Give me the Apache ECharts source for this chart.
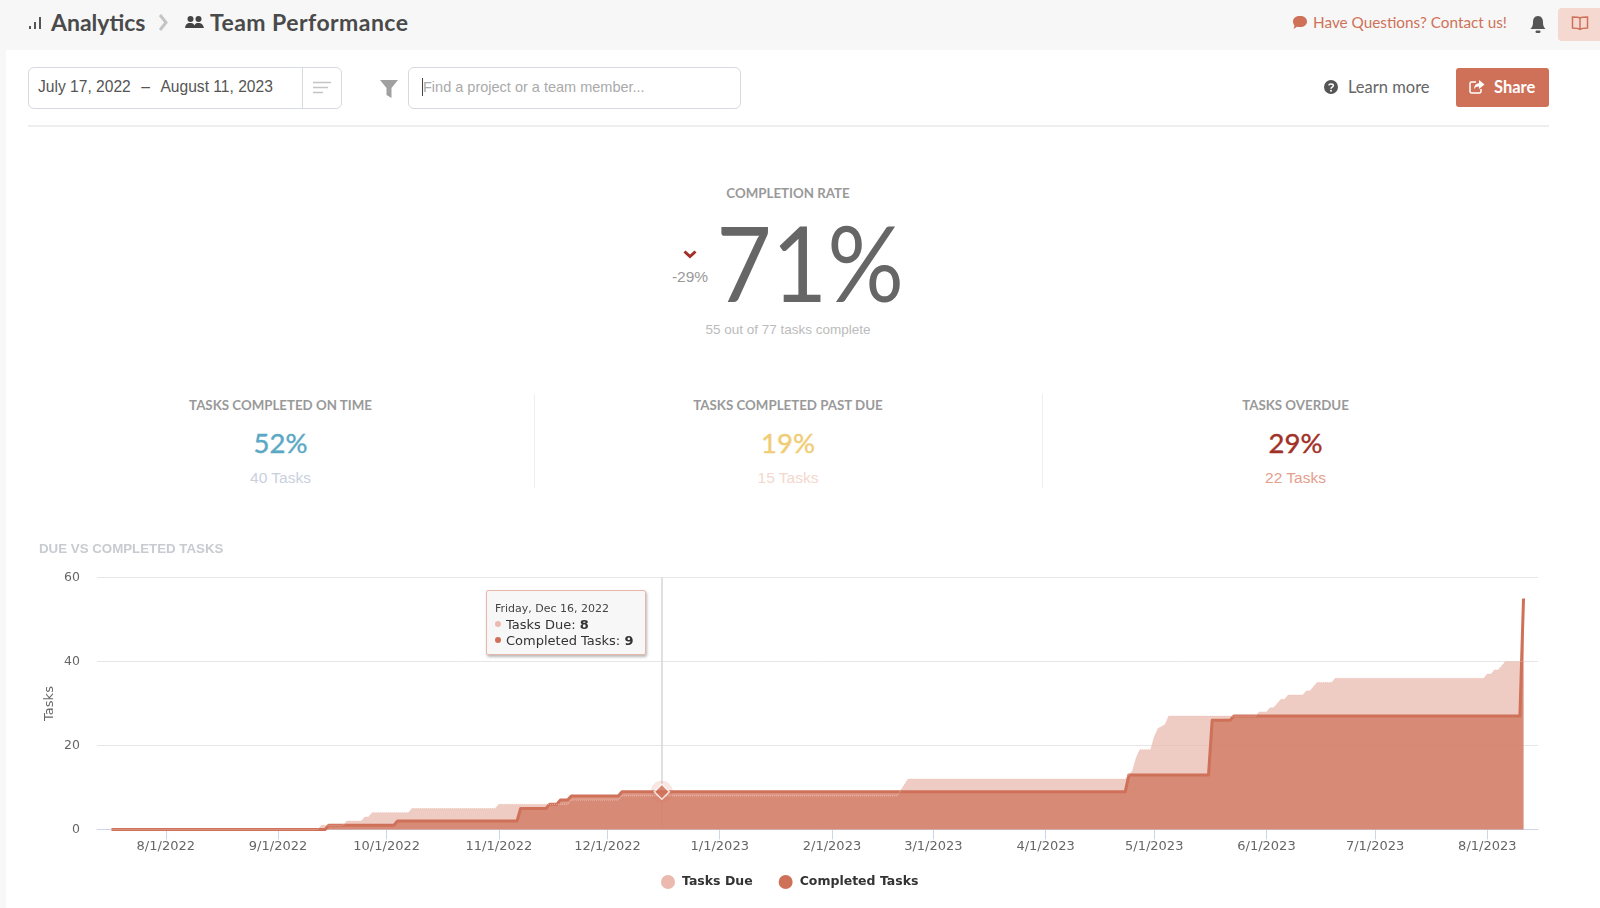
<!DOCTYPE html>
<html>
<head>
<meta charset="utf-8">
<title>Team Performance</title>
<script src="https://cdn.jsdelivr.net/npm/echarts@6/dist/echarts.min.js"></script>
<style>
  html, body { margin: 0; padding: 0; width: 1600px; height: 908px; overflow: hidden; background: #fff; }
  body { position: relative; font-family: Lato, sans-serif; }
  .abs { position: absolute; white-space: nowrap; line-height: 1; }
  .mid { transform: translate(-50%, -50%); }
  .vmid { transform: translateY(-50%); }
  .helv { font-family: "Liberation Sans", sans-serif; }
  .kpi-title { font-size: 13.3px; font-weight: 700; color: #999; }
  .kpi-value { font-size: 27.5px; font-weight: 400; -webkit-text-stroke: 0.4px; }
  .kpi-sub { font-size: 15.5px; font-family: "Liberation Sans", sans-serif; }
  #chart { position: absolute; left: 0; top: 530px; width: 1600px; height: 378px; }
</style>
</head>
<body>
<div class="abs" style="left:0;top:0;width:1600px;height:50px;background:#f7f7f7"></div>
<div class="abs" style="left:0;top:50px;width:6px;height:858px;background:#f7f7f7"></div>

<svg class="abs" style="left:28px;top:15px" width="14" height="15"><path d="M1 11h2v3H1zM6 7h2v7H6zM11 2h2v12h-2z" fill="#555"/></svg>
<div class="abs vmid" style="left:51px;top:22px;font-size:23px;font-weight:700;color:#4a4a4a">Analytics</div>
<svg class="abs" style="left:157px;top:13px" width="13" height="19"><path d="M3 2l6 7.5L3 17" fill="none" stroke="#c4c4c4" stroke-width="3"/></svg>
<svg class="abs" style="left:185px;top:14px" width="19" height="17"><g fill="#444"><circle cx="5.5" cy="5" r="3"/><circle cx="13.5" cy="5" r="3"/><path d="M0 14c1-5 3-5 5.5-5s4 1 5 5zM9 14c1-5 2-5 4.500-5s4.500 1 5.500 5z"/></g></svg>
<div class="abs vmid" style="left:210px;top:22px;font-size:23px;font-weight:700;color:#4a4a4a;letter-spacing:0.45px">Team Performance</div>

<svg class="abs" style="left:1292px;top:15px" width="16" height="15"><path d="M8 1c4 0 7 2 7 5.500S12 12 8 12c-1 0-2 0-3-.3L1.500 14l1-3.500C1.500 9.500 1 8 1 6.500 1 3 4 1 8 1z" fill="#cf7159"/></svg>
<div class="abs vmid" style="left:1313px;top:23px;font-size:15.3px;color:#cf7159">Have Questions? Contact us!</div>
<svg class="abs" style="left:1529px;top:15px" width="18" height="20"><path d="M9 1c-3.500 0-5 3-5 6 0 4-1 5-2.500 7h15C15 12 14 11 14 7c0-3-1.500-6-5-6z" fill="#555"/><rect x="6.500" y="15.500" width="5" height="2.500" rx="1.200" fill="#555"/></svg>
<div class="abs" style="left:1558px;top:8px;width:42px;height:33px;background:#f5d9d1;border-radius:4px 0 0 4px"></div>
<svg class="abs" style="left:1571px;top:15px" width="18" height="17"><path d="M9 3C7 2 4 2 1.500 2v11c2.500 0 5.500 0 7.500 1.500 2-1.500 5-1.500 7.500-1.500V2C14 2 11 2 9 3zv11.500" fill="none" stroke="#cf7159" stroke-width="1.500"/></svg>

<div class="abs" style="left:28px;top:67px;width:312px;height:40px;border:1px solid #d6d9df;border-radius:6px"></div>
<div class="abs" style="left:302px;top:67px;width:1px;height:42px;background:#d6d9df"></div>
<div class="abs helv vmid" style="left:38px;top:87px;font-size:15.6px;color:#555">July 17, 2022<span style="margin:0 10.500px">–</span>August 11, 2023</div>
<svg class="abs" style="left:312px;top:81px" width="20" height="14"><path d="M1 1.500h18M1 6.500h15M1 11.500h10" stroke="#c4c4c4" stroke-width="1.500"/></svg>
<svg class="abs" style="left:380px;top:79px" width="18" height="20"><path d="M0 1h18l-6.500 8v10l-5-3V9z" fill="#a0a0a0"/></svg>
<div class="abs" style="left:408px;top:67px;width:331px;height:40px;border:1px solid #d6d9df;border-radius:6px"></div>
<div class="abs" style="left:422px;top:78px;width:1px;height:18px;background:#444"></div>
<div class="abs helv vmid" style="left:423px;top:87px;font-size:14.5px;color:#aaa">Find a project or a team member...</div>

<svg class="abs" style="left:1324px;top:80px" width="14" height="14"><circle cx="7" cy="7" r="7" fill="#555"/><path d="M4.800 5.300C5 3.800 9.300 3.500 9.300 5.700c0 1.500-2.300 1.500-2.300 3" fill="none" stroke="#fff" stroke-width="1.500"/><circle cx="7" cy="10.800" r="1" fill="#fff"/></svg>
<div class="abs vmid" style="left:1348px;top:87px;font-size:16.500px;color:#666">Learn more</div>
<div class="abs" style="left:1456px;top:68px;width:93px;height:39px;background:#cf7159;border-radius:3px"></div>
<svg class="abs" style="left:1469px;top:79px" width="16" height="15"><path d="M7 3H2.500A1.500 1.500 0 0 0 1 4.500v8A1.500 1.500 0 0 0 2.500 14h8a1.500 1.500 0 0 0 1.500-1.500V10" fill="none" stroke="#fff" stroke-width="1.500"/><path d="M10 1l5.500 4.500L10 10V7.500c-3 0-4.500 1-5 3 0-4 2-6 5-6.300z" fill="#fff"/></svg>
<div class="abs vmid" style="left:1494px;top:87px;font-size:16.500px;font-weight:700;color:#fff">Share</div>
<div class="abs" style="left:28px;top:125px;width:1521px;height:2px;background:#eee"></div>

<div class="abs mid kpi-title" style="left:788px;top:194px">COMPLETION RATE</div>
<svg class="abs" style="left:683px;top:250px" width="14" height="9"><path d="M1.500 1.500L7 6.500l5.500-5" fill="none" stroke="#a03028" stroke-width="3"/></svg>
<div class="abs helv mid" style="left:690px;top:277px;font-size:15.5px;color:#999">-29%</div>
<div class="abs mid" style="left:809.500px;top:262px;font-size:104px;line-height:0.7;color:#666;transform:translate(-50%,-50%) scaleX(0.92)">71%</div>
<div class="abs helv mid" style="left:788px;top:330px;font-size:13.500px;color:#bbb">55 out of 77 tasks complete</div>

<div class="abs mid kpi-title" style="left:280.500px;top:406px">TASKS COMPLETED ON TIME</div>
<div class="abs mid kpi-value" style="left:280.500px;top:443px;color:#5ba8c4">52%</div>
<div class="abs mid kpi-sub" style="left:280.500px;top:478px;color:#c9d0dd">40 Tasks</div>
<div class="abs" style="left:534px;top:394px;width:1px;height:94px;background:#eee"></div>
<div class="abs mid kpi-title" style="left:788px;top:406px">TASKS COMPLETED PAST DUE</div>
<div class="abs mid kpi-value" style="left:788px;top:443px;color:#f0cd75">19%</div>
<div class="abs mid kpi-sub" style="left:788px;top:478px;color:#f3d7cc">15 Tasks</div>
<div class="abs" style="left:1042px;top:394px;width:1px;height:94px;background:#eee"></div>
<div class="abs mid kpi-title" style="left:1295.500px;top:406px">TASKS OVERDUE</div>
<div class="abs mid kpi-value" style="left:1295.500px;top:443px;color:#a13128">29%</div>
<div class="abs mid kpi-sub" style="left:1295.500px;top:478px;color:#e59e8d">22 Tasks</div>

<div id="chart"></div>

<script>
const dueDates = [
  '2022-07-17', '2022-09-12', '2022-09-13', '2022-09-19', '2022-09-20', '2022-09-24', '2022-09-25',
  '2022-09-26', '2022-09-27', '2022-10-07', '2022-10-08', '2022-10-31', '2022-11-01', '2022-11-20',
  '2022-11-21', '2022-12-04', '2022-12-05', '2023-02-19', '2023-02-22', '2023-04-23', '2023-04-25',
  '2023-04-26', '2023-04-27', '2023-04-30', '2023-05-01', '2023-05-02', '2023-05-04', '2023-05-05',
  '2023-05-29', '2023-05-30', '2023-06-01', '2023-06-02', '2023-06-03', '2023-06-04', '2023-06-05',
  '2023-06-06', '2023-06-07', '2023-06-11', '2023-06-12', '2023-06-13', '2023-06-15', '2023-06-19',
  '2023-06-20', '2023-07-31', '2023-08-01', '2023-08-02', '2023-08-03', '2023-08-04', '2023-08-06',
  '2023-08-11'
]
const dueValues = [
  0, 0, 1, 1, 2, 2, 3,
  3, 4, 4, 5, 5, 6, 6,
  7, 7, 8, 8, 12, 12, 14,
  17, 19, 19, 22, 24, 25, 27,
  27, 28, 28, 29, 29, 30, 31,
  31, 32, 32, 33, 33, 35, 35,
  36, 36, 37, 37, 38, 38, 40,
  40
]
const completedDates = [
  '2022-07-17', '2022-09-14', '2022-09-15', '2022-10-03', '2022-10-04', '2022-11-06', '2022-11-07',
  '2022-11-14', '2022-11-15', '2022-11-17', '2022-11-18', '2022-11-20', '2022-11-21', '2022-12-04',
  '2022-12-05', '2023-04-23', '2023-04-24', '2023-05-16', '2023-05-17', '2023-05-22', '2023-05-23',
  '2023-08-10', '2023-08-11'
]
const completedValues = [
  0, 0, 1, 1, 2, 2, 5,
  5, 6, 6, 7, 7, 8, 8,
  9, 9, 13, 13, 26, 26, 27,
  27, 55
]
const tickDates = [
  '2022-08-01', '2022-09-01', '2022-10-01', '2022-11-01', '2022-12-01', '2023-01-01', '2023-02-01',
  '2023-03-01', '2023-04-01', '2023-05-01', '2023-06-01', '2023-07-01', '2023-08-01'
]
const yTicks = [0, 20, 40, 60]
const hoverDate = '2022-12-16'
const hoverLabel = 'Friday, Dec 16, 2022'
const hoverDue = 8
const hoverCompleted = 9

const DUE_NAME = 'Tasks Due'
const COMPLETED_NAME = 'Completed Tasks'
const CHART_FONT = '"DejaVu Sans", sans-serif'

const toTime = (s) => {
  const [y, m, d] = s.split('-').map(Number)
  return Date.UTC(y, m - 1, d)
}
const toPairs = (dates, values) => dates.map((d, i) => [toTime(d), values[i]])
const tickTimes = tickDates.map(toTime)

const chart = echarts.init(document.getElementById('chart'))

const dot = (color) =>
  `<span style="display:inline-block;width:6px;height:6px;border-radius:50%;background:${color};margin-right:5px;vertical-align:2px"></span>`

chart.setOption({
  animation: false,
  textStyle: { fontFamily: CHART_FONT },
  title: {
    text: 'DUE VS COMPLETED TASKS',
    left: 34,
    top: 8,
    textStyle: { fontFamily: '"Liberation Sans", sans-serif', fontSize: 13.3, fontWeight: 700, color: '#c8cbd1' }
  },
  grid: { left: 97, right: 62, top: 47.5, bottom: 78.5 },
  legend: {
    data: [DUE_NAME, COMPLETED_NAME],
    left: 656,
    top: 340,
    icon: 'circle',
    itemWidth: 14,
    itemHeight: 14,
    itemGap: 26,
    selectedMode: false,
    textStyle: { fontFamily: CHART_FONT, fontSize: 12.5, fontWeight: 700, color: '#333', padding: [0, 0, 0, 2] }
  },
  tooltip: {
    trigger: 'item',
    triggerOn: 'none',
    alwaysShowContent: true,
    transitionDuration: 0,
    position: [486, 60],
    padding: [10, 12, 5, 8],
    backgroundColor: '#f7f7f7',
    borderColor: '#e8b7ab',
    borderWidth: 1,
    extraCssText: 'border-radius:2px;box-shadow:1px 2px 3px rgba(0,0,0,.28);line-height:16px;',
    textStyle: { fontFamily: CHART_FONT, fontSize: 13, color: '#333' },
    formatter: () =>
      `<div style="font-size:11px;color:#444">${hoverLabel}</div>` +
      `<div>${dot('#edb9ac')}${DUE_NAME}: <b>${hoverDue}</b></div>` +
      `<div>${dot('#cf7159')}${COMPLETED_NAME}: <b>${hoverCompleted}</b></div>`
  },
  xAxis: {
    // value axis over timestamps: month ticks come straight from tickDates
    type: 'value',
    min: toTime('2022-07-13'),
    max: toTime('2023-08-15'),
    axisLine: { onZero: false, lineStyle: { color: '#ccd6eb', width: 1 } },
    axisTick: { show: true, length: 10, lineStyle: { color: '#ccd6eb' }, customValues: tickTimes },
    splitLine: { show: false },
    axisLabel: {
      customValues: tickTimes,
      margin: 11,
      fontSize: 13,
      color: '#666',
      hideOverlap: false,
      formatter: (v) => {
        const d = new Date(v)
        return `${d.getUTCMonth() + 1}/${d.getUTCDate()}/${d.getUTCFullYear()}`
      }
    }
  },
  yAxis: {
    type: 'value',
    min: yTicks[0],
    max: yTicks[yTicks.length - 1],
    interval: yTicks[1] - yTicks[0],
    name: 'Tasks',
    nameLocation: 'middle',
    nameRotate: 90,
    nameGap: 41,
    nameMoveOverlap: false,
    nameTextStyle: { fontFamily: CHART_FONT, fontSize: 13, color: '#666' },
    axisLine: { show: false },
    axisTick: { show: false },
    axisLabel: { margin: 17, fontSize: 12.5, color: '#666' },
    splitLine: { lineStyle: { color: '#e6e6e6', width: 1 } }
  },
  series: [
    {
      name: DUE_NAME,
      type: 'line',
      z: 2,
      data: toPairs(dueDates, dueValues),
      showSymbol: false,
      itemStyle: { color: '#ebb9ad' },
      lineStyle: { width: 0 },
      areaStyle: { color: 'rgb(231,181,169)', opacity: 0.7 },
      markLine: {
        silent: true,
        symbol: 'none',
        z: 1,
        label: { show: false },
        lineStyle: { color: '#d6d6d6', width: 1.5, type: 'solid' },
        data: [[{ coord: [toTime(hoverDate), yTicks[0]] }, { coord: [toTime(hoverDate), yTicks[3]] }]]
      }
    },
    {
      name: COMPLETED_NAME,
      type: 'line',
      z: 3,
      data: toPairs(completedDates, completedValues),
      showSymbol: false,
      itemStyle: { color: '#cf7159' },
      lineStyle: { width: 3, color: '#cf7159', join: 'round' },
      areaStyle: { color: '#cf7159', opacity: 0.72 }
    },
    {
      // the dotted top edge of Tasks Due stays visible over the completed area
      name: 'dueEdge',
      type: 'line',
      z: 4,
      data: toPairs(dueDates, dueValues),
      showSymbol: false,
      silent: true,
      lineStyle: { width: 1, color: '#eec3b8', type: 'dotted', opacity: 0.8 }
    },
    {
      name: 'hover',
      type: 'scatter',
      z: 5,
      data: [
        {
          value: [toTime(hoverDate), hoverCompleted],
          symbol: 'circle',
          symbolSize: 22,
          itemStyle: { color: 'rgba(207,113,89,0.22)' }
        },
        {
          value: [toTime(hoverDate), hoverCompleted],
          symbol: 'diamond',
          symbolSize: 15,
          itemStyle: { color: '#cf7159', borderColor: '#fff', borderWidth: 1.5 }
        }
      ]
    }
  ]
})

chart.dispatchAction({ type: 'showTip', seriesIndex: 3, dataIndex: 1 })
</script>
</body>
</html>
